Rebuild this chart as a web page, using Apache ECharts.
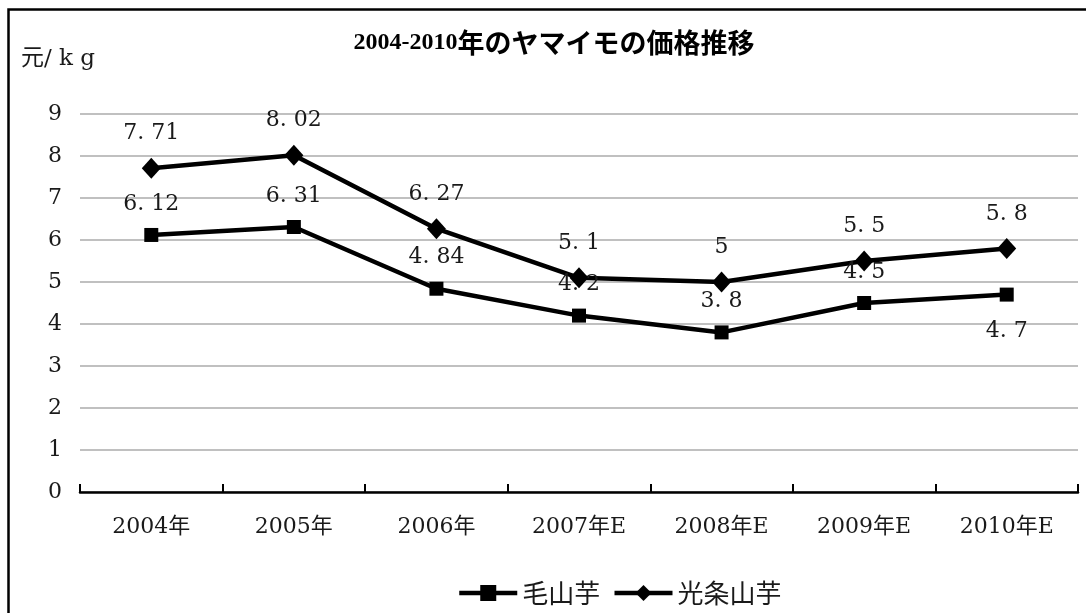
<!DOCTYPE html>
<html>
<head>
<meta charset="utf-8">
<script src="https://cdn.jsdelivr.net/npm/echarts@6/dist/echarts.min.js"></script>
<style>
  html, body { margin: 0; padding: 0; background: #fff; }
  #chart { width: 1086px; height: 613px; }
</style>
</head>
<body>
<div id="chart"></div>
<script>
// Price trend of yams, 2004-2010 (元/kg)
const categories = ['2004年', '2005年', '2006年', '2007年E', '2008年E', '2009年E', '2010年E'];
const maoShanYu = [6.12, 6.31, 4.84, 4.2, 3.8, 4.5, 4.7];
const guangTiaoShanYu = [7.71, 8.02, 6.27, 5.1, 5, 5.5, 5.8];
const seriesNames = ['毛山芋', '光条山芋'];
const yTicks = { min: 0, max: 9, interval: 1 };

const serifFont = '"DejaVu Serif", "Noto Sans CJK JP", serif';
const cjkFont = '"Noto Sans CJK JP", sans-serif';

const fmtLabel = p => String(p.value).replace('.', '. ');

const labelStyle = {
  show: true,
  position: 'top',
  distance: 13,
  fontFamily: serifFont,
  fontSize: 22,
  color: '#1a1a1a',
  formatter: fmtLabel
};

const chart = echarts.init(document.getElementById('chart'));
chart.setOption({
  backgroundColor: '#fff',
  animation: false,
  graphic: [{
    type: 'rect',
    shape: { x: 8.5, y: 9.5, width: 1200, height: 800 },
    style: { fill: 'none', stroke: '#000', lineWidth: 2.5 },
    silent: true,
    z: 100
  }],
  title: [{
    text: '{a|2004-2010}{b|年のヤマイモの価格推移}',
    left: 549,
    top: 24,
    textAlign: 'center',
    textStyle: {
      rich: {
        a: { fontFamily: '"Liberation Serif", serif', fontWeight: 'bold', fontSize: 24, color: '#000' },
        b: { fontFamily: cjkFont, fontWeight: 'bold', fontSize: 27, color: '#000' }
      }
    }
  }, {
    text: '元/ k g',
    left: 16,
    top: 43,
    textStyle: { fontFamily: serifFont, fontWeight: 'normal', fontSize: 23, color: '#1a1a1a' }
  }],
  legend: {
    data: seriesNames,
    left: 452,
    top: 575,
    itemWidth: 58,
    itemHeight: 20,
    itemGap: 12,
    lineStyle: { width: 4.5, color: '#000' },
    textStyle: { fontFamily: cjkFont, fontSize: 26, color: '#1a1a1a' }
  },
  grid: { left: 80, right: 8, top: 114, bottom: 121 },
  xAxis: {
    type: 'category',
    data: categories,
    boundaryGap: true,
    axisLine: { lineStyle: { color: '#000', width: 2.5 } },
    axisTick: { show: true, inside: true, length: 8, lineStyle: { color: '#000', width: 2 } },
    axisLabel: { margin: 24, fontFamily: serifFont, fontSize: 22, color: '#1a1a1a' },
    splitLine: { show: false }
  },
  yAxis: {
    type: 'value',
    min: yTicks.min,
    max: yTicks.max,
    interval: yTicks.interval,
    axisLine: { show: false },
    axisTick: { show: false },
    axisLabel: { margin: 18, fontFamily: serifFont, fontSize: 22, color: '#1a1a1a' },
    splitLine: { lineStyle: { color: '#c0c0c0', width: 2 } }
  },
  series: [{
    name: seriesNames[0],
    type: 'line',
    data: maoShanYu.map((v, i) => i === maoShanYu.length - 1
      ? { value: v, label: { position: 'bottom', distance: 19 } }
      : v),
    symbol: 'rect',
    symbolSize: 14,
    lineStyle: { color: '#000', width: 4.5 },
    itemStyle: { color: '#000' },
    label: labelStyle,
    z: 3
  }, {
    name: seriesNames[1],
    type: 'line',
    data: guangTiaoShanYu,
    symbol: 'diamond',
    symbolSize: [19, 21],
    lineStyle: { color: '#000', width: 4.5 },
    itemStyle: { color: '#000' },
    label: labelStyle,
    z: 3
  }]
});
</script>
</body>
</html>
